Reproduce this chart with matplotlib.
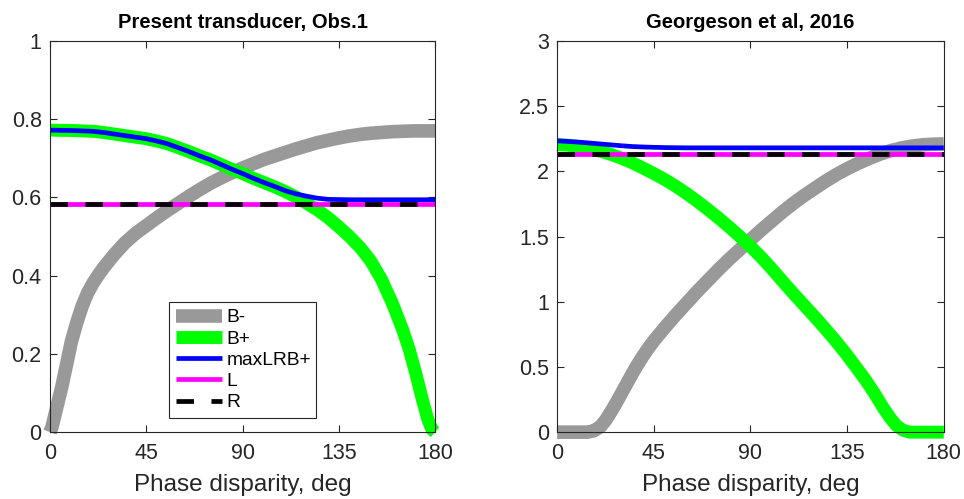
import matplotlib
matplotlib.use('Agg')
import matplotlib.pyplot as plt
from matplotlib.ticker import FuncFormatter

plt.rcParams['font.family'] = ['Liberation Sans', 'DejaVu Sans']

# left panel: present transducer, observer 1
left_bm_x = [0, 1, 3, 5.5, 8, 10, 12.5, 15, 17.5, 20, 22.5, 25, 30, 35, 40, 45, 50, 55, 60,
             65, 70, 75, 80, 85, 90, 95, 100, 105, 110, 115, 120, 125, 130, 135, 140, 145,
             150, 155, 160, 165, 170, 175, 180]
left_bm_y = [0.0, 0.015, 0.06, 0.116, 0.18, 0.232, 0.28, 0.322, 0.355, 0.38, 0.401, 0.42,
             0.454, 0.484, 0.508, 0.528, 0.548, 0.567, 0.585, 0.603, 0.62, 0.636, 0.65,
             0.663, 0.675, 0.686, 0.697, 0.706, 0.715, 0.724, 0.732, 0.74, 0.746, 0.752,
             0.757, 0.761, 0.764, 0.766, 0.768, 0.769, 0.77, 0.77, 0.77]
left_bp_x = [0, 10, 20, 25, 30, 35, 40, 45, 50, 55, 60, 65, 70, 75, 80, 85, 90, 95, 100,
             105, 110, 115, 120, 125, 130, 135, 140, 145, 150, 155, 160, 165, 168, 171,
             174, 176.5, 178.5, 180]
left_bp_y = [0.772, 0.771, 0.769, 0.766, 0.762, 0.758, 0.754, 0.75, 0.744, 0.737, 0.727,
             0.717, 0.706, 0.696, 0.684, 0.672, 0.661, 0.649, 0.638, 0.627, 0.615, 0.601,
             0.585, 0.568, 0.548, 0.525, 0.5, 0.472, 0.437, 0.39, 0.33, 0.26, 0.21, 0.15,
             0.085, 0.035, 0.007, 0.0]
left_max_x = [0, 10, 20, 25, 30, 35, 40, 45, 50, 55, 60, 65, 70, 75, 80, 85, 90, 95, 100,
              105, 110, 115, 120, 125, 130, 140, 180]
left_max_y = [0.772, 0.771, 0.769, 0.766, 0.762, 0.758, 0.754, 0.75, 0.744, 0.737, 0.727,
              0.717, 0.706, 0.696, 0.684, 0.672, 0.661, 0.649, 0.638, 0.628, 0.617, 0.609,
              0.603, 0.598, 0.595, 0.594, 0.594]
left_l = 0.583
left_r = 0.583

# right panel: Georgeson et al, 2016
right_bm_x = [0, 14, 17, 20, 22.5, 25, 27.5, 30, 32.5, 35, 37.5, 40, 42.5, 45, 50, 55, 60,
              65, 70, 75, 80, 85, 90, 95, 100, 105, 110, 115, 120, 125, 130, 135, 140, 145,
              150, 155, 160, 165, 170, 175, 180]
right_bm_y = [0.0, 0.0, 0.01, 0.04, 0.09, 0.155, 0.225, 0.30, 0.375, 0.45, 0.52, 0.585,
              0.645, 0.70, 0.80, 0.895, 0.985, 1.075, 1.16, 1.245, 1.325, 1.40, 1.475,
              1.55, 1.62, 1.69, 1.755, 1.815, 1.87, 1.925, 1.975, 2.02, 2.06, 2.097, 2.13,
              2.157, 2.178, 2.193, 2.203, 2.208, 2.21]
right_bp_x = [0, 5, 10, 15, 20, 25, 30, 35, 40, 45, 50, 55, 60, 65, 70, 75, 80, 85, 90, 95,
              100, 105, 110, 115, 120, 125, 130, 135, 140, 144, 148, 151.7, 155, 158, 161,
              164, 170, 180]
right_bp_y = [2.205, 2.20, 2.19, 2.175, 2.155, 2.13, 2.10, 2.065, 2.025, 1.983, 1.938,
              1.888, 1.833, 1.773, 1.71, 1.644, 1.574, 1.501, 1.424, 1.341, 1.251, 1.156,
              1.063, 0.973, 0.883, 0.79, 0.693, 0.59, 0.48, 0.39, 0.29, 0.19, 0.11, 0.05,
              0.015, 0.0, 0.0, 0.0]
right_max_x = [0, 10, 20, 25, 30, 35, 41, 50, 60, 180]
right_max_y = [2.234, 2.224, 2.21, 2.203, 2.196, 2.19, 2.186, 2.182, 2.18, 2.18]
right_l = 2.13
right_r = 2.13

x_ticks = [0, 45, 90, 135, 180]
axis_gray = (0.15, 0.15, 0.15)

fig = plt.figure(figsize=(9.64, 4.99), dpi=100)
ax1 = fig.add_axes([0.0519, 0.134, 0.3994, 0.784])
ax2 = fig.add_axes([0.578, 0.134, 0.401, 0.784])


def draw_panel(ax, bm_x, bm_y, bp_x, bp_y, mx_x, mx_y, l_val, r_val):
    kw = dict(clip_on=False, solid_capstyle='butt', solid_joinstyle='round')
    ax.plot(bm_x, bm_y, color=(0.6, 0.6, 0.6), lw=9.8, label='B-', **kw)
    ax.plot(bp_x, bp_y, color='#00ff00', lw=9.3, label='B+', **kw)
    ax.plot(mx_x, mx_y, color='#0000ff', lw=3.4, label='maxLRB+', **kw)
    ax.plot([0, 180], [l_val, l_val], color='#ff00ff', lw=3.4, label='L', **kw)
    ax.plot([0, 180], [r_val, r_val], color='k', lw=3.4, ls=(0, (3.7, 3.7)), label='R',
            dash_capstyle='butt', clip_on=False)


draw_panel(ax1, left_bm_x, left_bm_y, left_bp_x, left_bp_y, left_max_x, left_max_y,
           left_l, left_r)
draw_panel(ax2, right_bm_x, right_bm_y, right_bp_x, right_bp_y, right_max_x, right_max_y,
           right_l, right_r)

ax1.set_ylim(0, 1)
ax1.set_yticks([0, 0.2, 0.4, 0.6, 0.8, 1])
ax2.set_ylim(0, 3)
ax2.set_yticks([0, 0.5, 1, 1.5, 2, 2.5, 3])

fmt = FuncFormatter(lambda v, p: '%g' % v)
for ax, title in [(ax1, 'Present transducer, Obs.1'), (ax2, 'Georgeson et al, 2016')]:
    ax.set_xlim(0, 180)
    ax.set_xticks(x_ticks)
    ax.yaxis.set_major_formatter(fmt)
    ax.tick_params(direction='in', top=True, right=True, length=5, width=0.8,
                   colors=axis_gray, labelsize=15.5, labelcolor=axis_gray)
    ax.tick_params(axis='x', pad=8)
    ax.tick_params(axis='y', pad=6)
    for s in ax.spines.values():
        s.set_color(axis_gray)
        s.set_linewidth(0.8)
    ax.set_title(title, fontsize=14.5, fontweight='bold', pad=9)
    ax.set_xlabel('Phase disparity, deg', fontsize=17.5, color=axis_gray, labelpad=7)

leg = ax1.legend(loc='lower left', bbox_to_anchor=(0.309, 0.036, 0.382, 0.322),
                 mode='expand', fontsize=13.8, frameon=True, fancybox=False,
                 framealpha=1, edgecolor=axis_gray, handlelength=2.4,
                 handletextpad=0.25, labelspacing=0.2, borderpad=0.35,
                 borderaxespad=0)
leg.get_frame().set_linewidth(0.8)

fig.savefig('out.png', dpi=100)
